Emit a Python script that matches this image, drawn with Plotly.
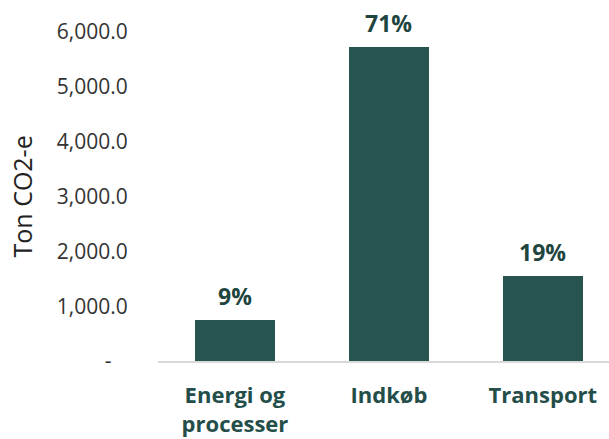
import plotly.graph_objects as go

categories = ["Energi og<br>processer", "Indkøb", "Transport"]
values = [750, 5735, 1550]
shares = ["9%", "71%", "19%"]
tick_vals = [0, 1000, 2000, 3000, 4000, 5000, 6000]
tick_text = ["-\u00a0\u00a0\u00a0", "1,000.0", "2,000.0", "3,000.0", "4,000.0", "5,000.0", "6,000.0"]

BAR = "#28544f"
GREEN_TXT = "#244e49"
FONT = "Open Sans"

xs = list(range(len(categories)))

fig = go.Figure()
fig.add_trace(go.Bar(x=xs, y=values, width=0.52, marker=dict(color=BAR, line=dict(width=0)),
                     hoverinfo="skip"))

for x, v, s in zip(xs, values, shares):
    fig.add_annotation(x=x, y=v, text=f"<b>{s}</b>", showarrow=False, yanchor="bottom",
                       yshift=6, font=dict(family=FONT, size=23, color="#1f4540"))

fig.add_annotation(xref="paper", yref="paper", x=(21 - 158) / 451, y=0.5,
                   text="Ton CO2-e", textangle=-90, showarrow=False,
                   xanchor="center", yanchor="middle",
                   font=dict(family=FONT, size=25, color="#222222"))

fig.update_layout(
    width=609, height=439,
    margin=dict(l=158, r=0, t=32, b=78),
    plot_bgcolor="white", paper_bgcolor="white",
    showlegend=False,
    bargap=0,
    xaxis=dict(
        range=[-0.5, 2.43], tickmode="array", tickvals=xs,
        ticktext=[f"<b>{c}</b>" for c in categories],
        showgrid=False, zeroline=False, showline=True, linecolor="#d9d9d9", linewidth=1.5,
        ticks="outside", ticklen=14, tickcolor="rgba(0,0,0,0)",
        tickfont=dict(family=FONT, size=22, color=GREEN_TXT),
    ),
    yaxis=dict(
        range=[0, 6000], tickmode="array", tickvals=tick_vals, ticktext=tick_text,
        showgrid=False, zeroline=False, showline=False,
        ticks="outside", ticklen=25, tickcolor="rgba(0,0,0,0)",
        tickfont=dict(family=FONT, size=21, color="#333333"),
    ),
)

fig.write_html("out.html")
